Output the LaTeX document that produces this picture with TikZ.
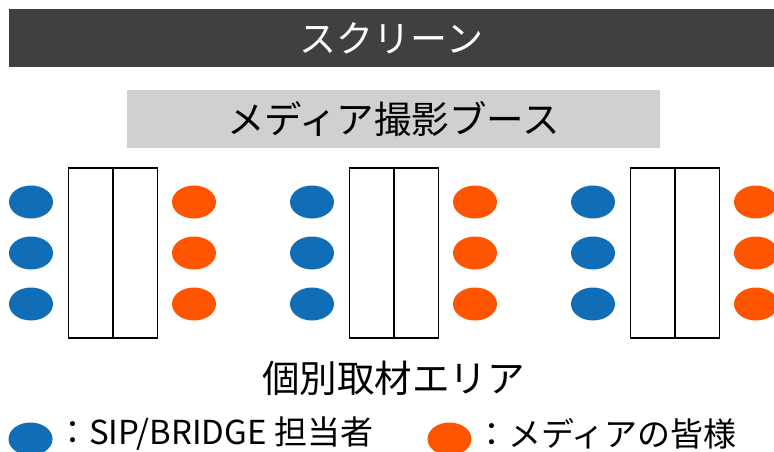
\documentclass[tikz,border=0pt]{standalone}
\usepackage{fontspec}
\setmainfont{Noto Sans CJK JP}
\usetikzlibrary{shapes.geometric}
\definecolor{sipblue}{RGB}{17,109,181}
\definecolor{mediaorange}{RGB}{255,85,0}
\definecolor{screengray}{RGB}{64,64,64}
\definecolor{boothgray}{RGB}{208,208,208}

\begin{document}
\begin{tikzpicture}[x=1pt,y=-1pt,
    staff/.style={ellipse,fill=sipblue,minimum width=44pt,minimum height=33pt,inner sep=0pt},
    guest/.style={ellipse,fill=mediaorange,minimum width=44pt,minimum height=33pt,inner sep=0pt},
    desk/.style={draw=black,line width=1.5pt,minimum width=44.5pt,minimum height=170pt,inner sep=0pt}]
    \def\d{281};
    \useasboundingbox (0,0) rectangle (774,452);
    \node[fill=screengray,text=white,minimum width=765pt,minimum height=58pt,inner sep=0pt,font=\fontsize{37}{37}\selectfont] at (391.5,38) (screen) {スクリーン};
    \node[fill=boothgray,minimum width=533pt,minimum height=58pt,inner sep=0pt,font=\fontsize{37.5}{37.5}\selectfont] at (393.5,119) (booth) {メディア撮影ブース};

    \foreach \g in {0,1,2} {
        \node[desk] at (90.5+\g*\d,253) (deskL\g) {};
        \node[desk] at (135+\g*\d,253) (deskR\g) {};
        \node[staff] at (31+\g*\d,202) (staffA\g) {};
        \node[staff] at (31+\g*\d,253) (staffB\g) {};
        \node[staff] at (31+\g*\d,304) (staffC\g) {};
        \node[guest] at (194+\g*\d,202) (guestA\g) {};
        \node[guest] at (194+\g*\d,253) (guestB\g) {};
        \node[guest] at (194+\g*\d,304) (guestC\g) {};
    }
    \node[font=\fontsize{37.5}{37.5}\selectfont] at (393.5,378) (area) {個別取材エリア};

    \node[staff] at (30.5,439) (keystaff) {};
    \node[anchor=west,inner sep=0pt,font=\fontsize{33}{33}\selectfont] at (56,434) (keystafftext) {：SIP/BRIDGE 担当者};
    \node[guest] at (449.5,439) (keyguest) {};
    \node[anchor=west,inner sep=0pt,font=\fontsize{33}{33}\selectfont] at (475,434) (keyguesttext) {：メディアの皆様};
\end{tikzpicture}
\end{document}
